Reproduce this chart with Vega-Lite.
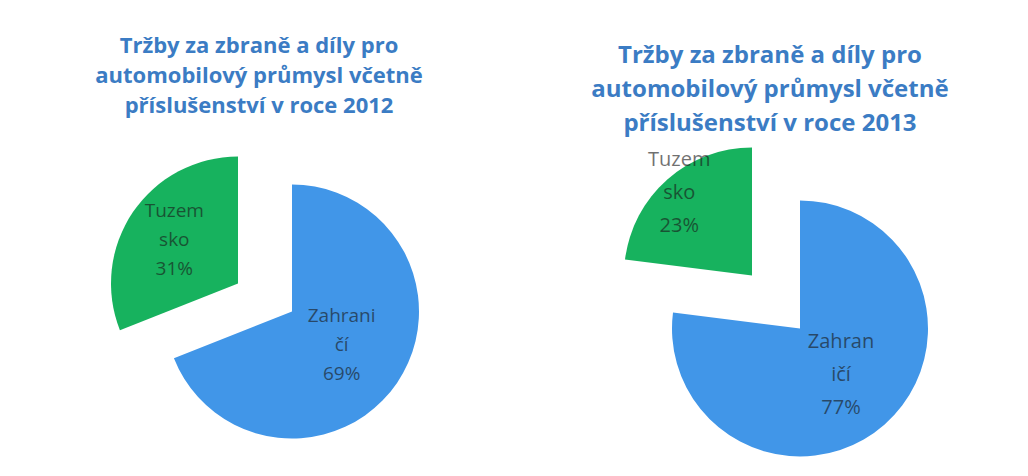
{
  "$schema": "https://vega.github.io/schema/vega-lite/v6.json",
  "padding": {"left": 10, "top": 35, "right": 0, "bottom": 0},
  "spacing": 4,
  "background": "white",
  "config": {"view": {"stroke": null}},
  "datasets": {
    "shares": [
      {"year": "2012", "category": "Zahraničí", "value": 69, "label": "Zahrani\nčí\n69%"},
      {"year": "2012", "category": "Tuzemsko", "value": 31, "label": "Tuzem\nsko\n31%"},
      {"year": "2013", "category": "Zahraničí", "value": 77, "label": "Zahran\ničí\n77%"},
      {"year": "2013", "category": "Tuzemsko", "value": 23, "label": "Tuzem\nsko\n23%"}
    ]
  },
  "hconcat": [
    {
      "width": 498,
      "height": 341,
      "title": {"text": ["Tržby za zbraně a díly pro", "automobilový průmysl včetně", "příslušenství v roce 2012"], "fontSize": 22, "lineHeight": 30, "font": "Open Sans", "fontWeight": "bold", "color": "#3b7cc4", "anchor": "middle", "offset": 1},
      "data": {"name": "shares"},
      "transform": [
        {"filter": "datum.year == '2012'"},
        {"stack": "value", "groupby": ["year"], "sort": [{"field": "category", "order": "descending"}], "as": ["v0", "v1"]}
      ],
      "layer": [
        {"transform": [{"filter": "datum.category == 'Zahraničí'"}], "mark": {"type": "arc", "outerRadius": 127, "xOffset": 33, "yOffset": 22, "color": "#4196e8"},
         "encoding": {"theta": {"field": "v0", "type": "quantitative", "scale": {"domain": [0, 100]}}, "theta2": {"field": "v1"}}},
        {"transform": [{"filter": "datum.category == 'Tuzemsko'"}], "mark": {"type": "arc", "outerRadius": 127, "xOffset": -21, "yOffset": -6, "color": "#17b25e"},
         "encoding": {"theta": {"field": "v0", "type": "quantitative", "scale": {"domain": [0, 100]}}, "theta2": {"field": "v1"}}},
        {"mark": {"type": "text", "radius": 60, "xOffset": 33, "yOffset": 22, "dy": -29, "font": "Open Sans", "fontSize": 19, "lineHeight": 29, "lineBreak": "\n", "color": "#1a1a1a", "opacity": 0.62},
         "encoding": {"theta": {"field": "value", "type": "quantitative", "stack": true, "scale": {"domain": [0, 100]}}, "order": {"field": "category", "sort": "descending"},
                      "text": {"condition": {"test": "datum.category == 'Zahraničí'", "field": "label"}, "value": ""}}},
        {"mark": {"type": "text", "radius": 77, "xOffset": -21, "yOffset": -6, "dy": -29, "font": "Open Sans", "fontSize": 19, "lineHeight": 29, "lineBreak": "\n", "color": "#1a1a1a", "opacity": 0.62},
         "encoding": {"theta": {"field": "value", "type": "quantitative", "stack": true, "scale": {"domain": [0, 100]}}, "order": {"field": "category", "sort": "descending"},
                      "text": {"condition": {"test": "datum.category == 'Tuzemsko'", "field": "label"}, "value": ""}}}
      ]
    },
    {
      "width": 516,
      "height": 341,
      "title": {"text": ["Tržby za zbraně a díly pro", "automobilový průmysl včetně", "příslušenství v roce 2013"], "fontSize": 24, "lineHeight": 34, "font": "Open Sans", "fontWeight": "bold", "color": "#3b7cc4", "anchor": "middle", "offset": -17},
      "data": {"name": "shares"},
      "transform": [
        {"filter": "datum.year == '2013'"},
        {"stack": "value", "groupby": ["year"], "sort": [{"field": "category", "order": "descending"}], "as": ["v0", "v1"]}
      ],
      "layer": [
        {"transform": [{"filter": "datum.category == 'Zahraničí'"}], "mark": {"type": "arc", "outerRadius": 128, "xOffset": 30, "yOffset": 39, "color": "#4196e8"},
         "encoding": {"theta": {"field": "v0", "type": "quantitative", "scale": {"domain": [0, 100]}}, "theta2": {"field": "v1"}}},
        {"transform": [{"filter": "datum.category == 'Tuzemsko'"}], "mark": {"type": "arc", "outerRadius": 128, "xOffset": -18, "yOffset": -14, "color": "#17b25e"},
         "encoding": {"theta": {"field": "v0", "type": "quantitative", "scale": {"domain": [0, 100]}}, "theta2": {"field": "v1"}}},
        {"mark": {"type": "text", "radius": 62, "xOffset": 30, "yOffset": 39, "dy": -33, "font": "Open Sans", "fontSize": 20, "lineHeight": 33, "lineBreak": "\n", "color": "#1a1a1a", "opacity": 0.62},
         "encoding": {"theta": {"field": "value", "type": "quantitative", "stack": true, "scale": {"domain": [0, 100]}}, "order": {"field": "category", "sort": "descending"},
                      "text": {"condition": {"test": "datum.category == 'Zahraničí'", "field": "label"}, "value": ""}}},
        {"mark": {"type": "text", "radius": 110, "xOffset": -18, "yOffset": -14, "dy": -33, "font": "Open Sans", "fontSize": 20, "lineHeight": 33, "lineBreak": "\n", "color": "#1a1a1a", "opacity": 0.62},
         "encoding": {"theta": {"field": "value", "type": "quantitative", "stack": true, "scale": {"domain": [0, 100]}}, "order": {"field": "category", "sort": "descending"},
                      "text": {"condition": {"test": "datum.category == 'Tuzemsko'", "field": "label"}, "value": ""}}}
      ]
    }
  ]
}
